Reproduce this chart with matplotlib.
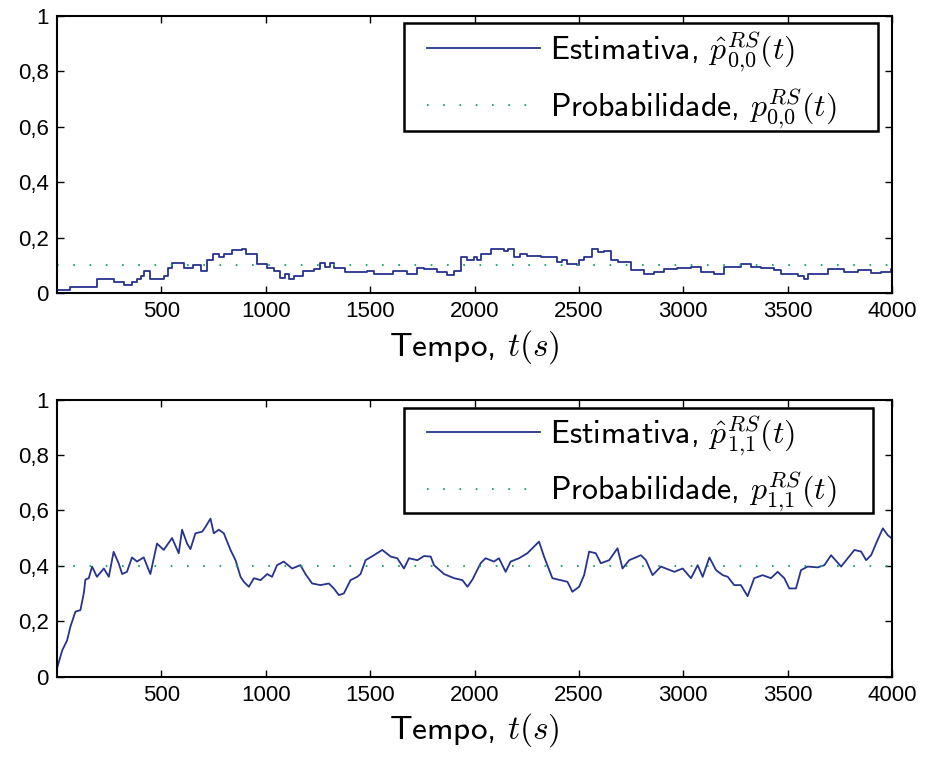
import matplotlib
matplotlib.use("Agg")
import matplotlib.pyplot as plt
from matplotlib.patches import Rectangle

plt.rcParams['font.family'] = ['cmss10', 'DejaVu Sans']
plt.rcParams['mathtext.fontset'] = 'cm'
plt.rcParams['axes.unicode_minus'] = False

# Estimativa p_00
t00 = [0, 64, 191, 271, 320, 360, 383, 400, 415, 447,
       511, 530, 551, 607, 650, 690, 719, 745, 775, 800,
       839, 887, 905, 959, 1007, 1040, 1070, 1090, 1110, 1134,
       1180, 1230, 1262, 1285, 1310, 1326, 1380, 1486, 1520, 1566,
       1610, 1678, 1726, 1760, 1822, 1870, 1902, 1934, 1965, 1998,
       2013, 2030, 2077, 2141, 2160, 2189, 2220, 2253, 2317, 2397,
       2420, 2445, 2490, 2500, 2525, 2565, 2590, 2621, 2653, 2685,
       2749, 2812, 2860, 2908, 2972, 3036, 3084, 3148, 3196, 3276,
       3324, 3372, 3436, 3468, 3548, 3580, 3596, 3692, 3772, 3836,
       3900, 3948, 3994, 4000]
p00 = [0.01, 0.02, 0.05, 0.04, 0.03, 0.04, 0.05, 0.06, 0.08, 0.05,
       0.06, 0.09, 0.11, 0.09, 0.10, 0.08, 0.12, 0.14, 0.13, 0.14,
       0.155, 0.16, 0.14, 0.105, 0.09, 0.08, 0.055, 0.07, 0.05, 0.06,
       0.08, 0.085, 0.108, 0.095, 0.11, 0.09, 0.075, 0.08, 0.07, 0.067,
       0.08, 0.07, 0.09, 0.085, 0.075, 0.065, 0.08, 0.13, 0.12, 0.13,
       0.12, 0.14, 0.16, 0.15, 0.16, 0.13, 0.14, 0.135, 0.13, 0.112,
       0.12, 0.104, 0.10, 0.118, 0.13, 0.16, 0.148, 0.15, 0.12, 0.112,
       0.082, 0.07, 0.076, 0.088, 0.09, 0.094, 0.076, 0.067, 0.094, 0.106,
       0.094, 0.09, 0.082, 0.067, 0.06, 0.052, 0.07, 0.088, 0.076, 0.082,
       0.072, 0.075, 0.088, 0.088]
prob00 = 0.1

# Estimativa p_11
t11 = [0, 25, 48, 64, 88, 112, 128, 136, 152, 168,
       191, 224, 248, 271, 295, 312, 335, 359, 383, 415,
       447, 479, 511, 551, 583, 599, 623, 639, 663, 695,
       711, 735, 751, 775, 799, 831, 855, 879, 895, 919,
       943, 975, 1007, 1030, 1054, 1086, 1126, 1166, 1190, 1222,
       1262, 1302, 1326, 1350, 1374, 1406, 1438, 1454, 1478, 1518,
       1558, 1598, 1630, 1662, 1686, 1726, 1758, 1790, 1806, 1854,
       1902, 1942, 1966, 1990, 2013, 2030, 2053, 2093, 2117, 2149,
       2173, 2213, 2253, 2309, 2333, 2373, 2413, 2445, 2469, 2501,
       2525, 2549, 2581, 2605, 2645, 2685, 2709, 2741, 2797, 2821,
       2853, 2893, 2957, 2997, 3037, 3069, 3093, 3125, 3157, 3189,
       3213, 3244, 3276, 3308, 3340, 3380, 3420, 3452, 3484, 3508,
       3540, 3564, 3596, 3644, 3676, 3708, 3756, 3788, 3820, 3852,
       3876, 3900, 3924, 3956, 3980, 4000]
p11 = [0.03, 0.095, 0.13, 0.18, 0.234, 0.24, 0.30, 0.35, 0.355, 0.397,
       0.36, 0.39, 0.36, 0.45, 0.409, 0.37, 0.378, 0.43, 0.415, 0.43,
       0.37, 0.48, 0.457, 0.50, 0.445, 0.53, 0.48, 0.46, 0.517, 0.523,
       0.54, 0.57, 0.517, 0.53, 0.517, 0.457, 0.42, 0.36, 0.342, 0.324,
       0.355, 0.348, 0.37, 0.36, 0.402, 0.415, 0.39, 0.402, 0.37, 0.336,
       0.33, 0.336, 0.318, 0.294, 0.30, 0.348, 0.36, 0.37, 0.42, 0.438,
       0.457, 0.433, 0.427, 0.39, 0.427, 0.42, 0.435, 0.433, 0.402, 0.37,
       0.355, 0.348, 0.324, 0.35, 0.384, 0.41, 0.427, 0.415, 0.427, 0.378,
       0.415, 0.427, 0.445, 0.487, 0.433, 0.355, 0.348, 0.342, 0.306, 0.324,
       0.366, 0.451, 0.445, 0.409, 0.42, 0.463, 0.39, 0.42, 0.438, 0.42,
       0.366, 0.397, 0.378, 0.39, 0.355, 0.402, 0.36, 0.43, 0.384, 0.366,
       0.36, 0.33, 0.33, 0.29, 0.355, 0.366, 0.355, 0.378, 0.355, 0.318,
       0.318, 0.384, 0.397, 0.394, 0.402, 0.438, 0.397, 0.427, 0.457, 0.451,
       0.42, 0.438, 0.481, 0.535, 0.51, 0.498]
prob11 = 0.4

x_ticks = [500, 1000, 1500, 2000, 2500, 3000, 3500, 4000]
y_ticks = [0, 0.2, 0.4, 0.6, 0.8, 1]
y_labels = ['0', '0,2', '0,4', '0,6', '0,8', '1']

est_color = '#26338f'
prob_color = '#1fae6e'

fig = plt.figure(figsize=(9.26, 7.61), dpi=100)
ax1 = fig.add_axes([0.0616, 0.615, 0.9017, 0.364])
ax2 = fig.add_axes([0.0616, 0.111, 0.9017, 0.364])

# legend box (axes fraction): x0, y0, x1, y1
panels = [
    (ax1, t00, p00, prob00, '0{,}0', True, (0.4156, 0.585, 0.983, 0.975)),
    (ax2, t11, p11, prob11, '1{,}1', False, (0.4156, 0.589, 0.977, 0.970)),
]

for ax, t, p, prob, idx, steps, box in panels:
    ax.plot(t, p, color=est_color, lw=1.3,
            drawstyle='steps-post' if steps else 'default',
            label=r'Estimativa, $\hat{p}^{RS}_{' + idx + r'}(t)$')
    ax.plot([0, 4000], [prob, prob], color=prob_color, lw=1.5,
            linestyle=(0, (0.8, 7)),
            label=r'Probabilidade, $p^{RS}_{' + idx + r'}(t)$')
    ax.set_xlim(0, 4000)
    ax.set_ylim(0, 1)
    ax.set_xticks(x_ticks)
    ax.set_xticklabels([str(v) for v in x_ticks], family='Liberation Sans', fontsize=16)
    ax.set_yticks(y_ticks)
    ax.set_yticklabels(y_labels, family='Liberation Sans', fontsize=16)
    ax.tick_params(direction='in', length=5, width=1, top=True, right=True, pad=6)
    for s in ax.spines.values():
        s.set_linewidth(1.5)
    ax.set_xlabel(r'Tempo, $t(s)$', fontsize=24, labelpad=4)

    x0, y0, x1, y1 = box
    ax.add_patch(Rectangle((x0, y0), x1 - x0, y1 - y0, transform=ax.transAxes,
                           facecolor='white', edgecolor='black', lw=1.8, zorder=4))
    leg = ax.legend(loc='center left', bbox_to_anchor=(0.443, (y0 + y1) / 2 - 0.012),
                    fontsize=23, frameon=False, borderpad=0, borderaxespad=0,
                    handlelength=3.55, handletextpad=0.3, labelspacing=0.38)
    leg.set_zorder(5)

fig.savefig('out.png', dpi=100)
